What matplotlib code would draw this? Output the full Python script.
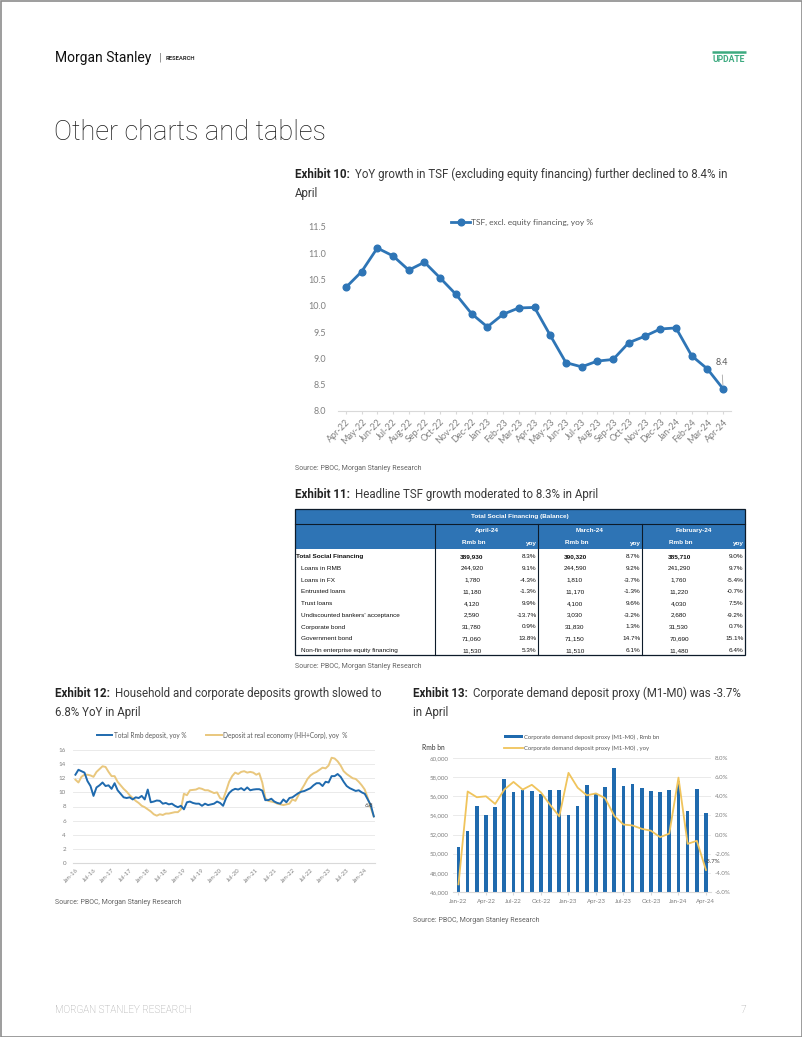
import matplotlib
matplotlib.use('Agg')
import matplotlib.pyplot as plt
from matplotlib.patches import Rectangle
from matplotlib.ticker import FuncFormatter
import numpy as np

# ---------------- data ----------------
tsf_months = ['Apr-22', 'May-22', 'Jun-22', 'Jul-22', 'Aug-22', 'Sep-22', 'Oct-22', 'Nov-22',
              'Dec-22', 'Jan-23', 'Feb-23', 'Mar-23', 'Apr-23', 'May-23', 'Jun-23', 'Jul-23',
              'Aug-23', 'Sep-23', 'Oct-23', 'Nov-23', 'Dec-23', 'Jan-24', 'Feb-24', 'Mar-24', 'Apr-24']
tsf_yoy = [10.35, 10.65, 11.1, 10.95, 10.68, 10.83, 10.53, 10.22, 9.85, 9.6, 9.84, 9.96, 9.97,
           9.44, 8.92, 8.84, 8.95, 8.98, 9.3, 9.42, 9.56, 9.58, 9.05, 8.8, 8.42]

table_rows = ['Total Social Financing', 'Loans in RMB', 'Loans in FX', 'Entrusted loans',
              'Trust loans', "Undiscounted bankers' acceptance", 'Corporate bond',
              'Government bond', 'Non-fin enterprise equity financing']
table_months = ['April-24', 'March-24', 'February-24']
apr_bal = [389930, 244920, 1780, 11180, 4120, 2590, 31780, 71060, 11530]
apr_yoy = [8.3, 9.1, -4.3, -1.3, 9.9, -13.7, 0.9, 13.8, 5.3]
mar_bal = [390320, 244590, 1810, 11170, 4100, 3030, 31830, 71150, 11510]
mar_yoy = [8.7, 9.2, -3.7, -1.3, 9.6, -3.2, 1.3, 14.7, 6.1]
feb_bal = [385710, 241290, 1760, 11220, 4030, 2680, 31530, 70690, 11480]
feb_yoy = [9.0, 9.7, -5.4, -0.7, 7.5, -9.2, 0.7, 15.1, 6.4]

# monthly, Jan-16 .. Apr-24
total_rmb_dep = [12.5, 13.2, 13.0, 12.8, 11.6, 10.9, 9.5, 10.7, 11.0, 11.4, 10.9, 11.0,
                 10.5, 11.3, 10.3, 9.8, 9.3, 9.2, 9.3, 9.0, 9.3, 9.2, 9.5, 9.0,
                 10.4, 8.6, 8.7, 8.85, 8.8, 8.4, 8.5, 8.3, 8.4, 8.1, 7.9, 8.1,
                 7.6, 8.6, 8.7, 8.5, 8.4, 8.4, 8.1, 8.4, 8.2, 8.3, 8.4, 8.7,
                 8.5, 8.1, 9.2, 9.9, 10.3, 10.5, 10.4, 10.6, 10.3, 10.7, 10.3, 10.4,
                 10.45, 10.45, 10.25, 8.9, 8.9, 9.1, 8.7, 8.5, 8.4, 9.0, 8.6, 9.2,
                 9.3, 9.6, 9.9, 10.1, 10.2, 10.4, 10.6, 11.0, 11.3, 11.3, 10.9, 11.5,
                 11.4, 12.3, 12.3, 12.6, 12.2, 11.5, 10.9, 10.6, 10.4, 10.2, 10.3, 10.0,
                 9.8, 9.0, 8.2, 6.6]
real_econ_dep = [11.8, 11.4, 12.2, 12.5, 12.5, 12.4, 12.2, 12.9, 13.3, 13.7, 13.6, 12.9,
                 12.3, 12.3, 11.5, 11.0, 10.5, 10.1, 9.6, 9.2, 8.8, 8.5, 8.1, 7.9,
                 7.6, 7.3, 6.9, 6.7, 6.9, 6.8, 7.0, 7.0, 7.1, 7.2, 7.2, 7.6,
                 9.8, 9.6, 10.3, 10.35, 10.4, 10.6, 10.5, 10.3, 10.3, 10.1, 9.9, 10.0,
                 9.2, 9.0, 10.2, 11.5, 12.3, 12.8, 12.6, 12.9, 13.0, 12.8, 12.9, 12.8,
                 12.5, 12.7, 11.4, 9.2, 8.8, 8.7, 8.6, 8.4, 8.3, 8.2, 8.3, 8.4,
                 9.0, 8.8, 9.6, 10.4, 11.1, 11.9, 12.4, 12.7, 12.9, 13.2, 13.5, 13.4,
                 13.8, 14.9, 14.8, 14.4, 13.8, 13.0, 12.6, 12.3, 12.0, 11.9, 11.5, 11.0,
                 10.4, 9.2, 7.8, 6.6]
dep_ticklabels = ['Jan-16', 'Jul-16', 'Jan-17', 'Jul-17', 'Jan-18', 'Jul-18', 'Jan-19', 'Jul-19',
                  'Jan-20', 'Jul-20', 'Jan-21', 'Jul-21', 'Jan-22', 'Jul-22', 'Jan-23', 'Jul-23', 'Jan-24']

m1m0_months = ['Jan-22', 'Feb-22', 'Mar-22', 'Apr-22', 'May-22', 'Jun-22', 'Jul-22', 'Aug-22',
               'Sep-22', 'Oct-22', 'Nov-22', 'Dec-22', 'Jan-23', 'Feb-23', 'Mar-23', 'Apr-23',
               'May-23', 'Jun-23', 'Jul-23', 'Aug-23', 'Sep-23', 'Oct-23', 'Nov-23', 'Dec-23',
               'Jan-24', 'Feb-24', 'Mar-24', 'Apr-24']
m1m0_bal = [50700, 52370, 54940, 54000, 54890, 57780, 56480, 56640, 56550, 56290, 56640, 56640,
            54000, 54970, 57170, 56190, 57000, 58940, 57070, 57280, 56830, 56550, 56480, 56650,
            57600, 54440, 56780, 54270]
m1m0_yoy = [-5.2, 4.5, 3.9, 4.0, 3.2, 4.7, 5.5, 4.7, 5.2, 4.4, 3.1, 1.9,
            6.45, 4.9, 4.1, 4.3, 3.8, 1.95, 1.05, 0.95, 0.6, 0.4, -0.27, 0.1,
            5.95, -0.97, -0.65, -3.7]

# ---------------- layout helpers ----------------
W, H = 802, 1037
fig = plt.figure(figsize=(W / 100, H / 100), dpi=100)
fig.patch.set_facecolor('white')


def add_axes_px(left, top, right, bottom):
    return fig.add_axes([left / W, 1 - bottom / H, (right - left) / W, (bottom - top) / H])


page = fig.add_axes([0, 0, 1, 1])
page.set_xlim(0, W)
page.set_ylim(H, 0)
page.axis('off')

TITLE_FONT = 'Roboto'
CHART_FONT = 'Lato'
TABLE_FONT = 'Liberation Sans'
SRC = '#666666'
BLUE = '#2E75B6'
DBLUE = '#1F6AAE'
GOLD = '#E9C77D'
GOLD2 = '#F0C45C'

# page border
page.add_patch(Rectangle((0.5, 0.5), W - 1, H - 1, fill=False, ec='#8c8c8c', lw=1.2))

# header
page.text(55, 58, 'Morgan Stanley', family=TITLE_FONT, fontsize=10, color='#111111', va='center')
page.text(159, 58, '|', family=TITLE_FONT, fontsize=8, color='#777777', va='center')
page.text(166, 58.5, 'RESEARCH', family=TITLE_FONT, fontsize=4.2, fontweight='bold',
          color='#333333', va='center')
page.plot([712, 746], [52, 52], color='#3DAA80', lw=1.8, solid_capstyle='butt')
page.text(729, 59.5, 'UPDATE', family=TITLE_FONT, fontsize=6.2, fontweight='bold',
          color='#3DAA80', va='center', ha='center')

page.text(54, 133, 'Other charts and tables', family=TITLE_FONT, fontweight='light',
          fontsize=19.5, color='#1a1a1a', va='center')


def exhibit(x, y, label, line1, line2=None, size=8.3):
    t = page.text(x, y, label, family=TITLE_FONT, fontweight='bold', fontsize=size,
                  color='#222222', va='baseline')
    page.annotate(line1, xy=(1, 0), xycoords=t, xytext=(3.5, 0), textcoords='offset points',
                  family=TITLE_FONT, fontsize=size, color='#3a3a3a',
                  va='bottom', ha='left')
    if line2:
        page.text(x, y + 19, line2, family=TITLE_FONT, fontsize=size,
                  color='#3a3a3a', va='baseline')


def source(x, y):
    page.text(x, y, 'Source: PBOC, Morgan Stanley Research', family=TITLE_FONT, fontsize=5,
              color=SRC, va='center')


exhibit(295, 178, 'Exhibit 10:',
        'YoY growth in TSF (excluding equity financing) further declined to 8.4% in', 'April')
source(295, 469)
exhibit(295, 498, 'Exhibit 11:', 'Headline TSF growth moderated to 8.3% in April')
source(295, 667)
exhibit(55, 697, 'Exhibit 12:', 'Household and corporate deposits growth slowed to', '6.8% YoY in April')
source(55, 902)
exhibit(413, 697, 'Exhibit 13:', 'Corporate demand deposit proxy (M1-M0) was -3.7%', 'in April')
source(413, 920)

# footer
page.text(55, 1010, 'MORGAN STANLEY RESEARCH', family=TITLE_FONT, fontweight='light',
          fontsize=7.1, color='#9a9a9a', va='center')
page.text(746, 1010, '7', family=TITLE_FONT, fontweight='light', fontsize=7.5, color='#9a9a9a',
          va='center', ha='right')

# ---------------- Exhibit 10 ----------------
ax1 = add_axes_px(338, 227, 731, 411)
x1 = np.arange(len(tsf_months))
ax1.plot(x1, tsf_yoy, color=BLUE, lw=2, marker='o', ms=4.8,
         label='TSF, excl. equity financing, yoy %')
ax1.set_xlim(-0.5, len(x1) - 0.5)
ax1.set_ylim(8, 11.5)
ax1.set_yticks(np.arange(8, 11.51, 0.5))
ax1.yaxis.set_major_formatter(FuncFormatter(lambda v, p: f'{v:.1f}'))
ax1.set_xticks(x1)
ax1.set_xticklabels(tsf_months, rotation=45, ha='right', rotation_mode='anchor')
for s in ['top', 'right', 'left']:
    ax1.spines[s].set_visible(False)
ax1.spines['bottom'].set_color('#D9D9D9')
ax1.tick_params(axis='y', length=0, labelsize=6.5, labelcolor='#808080', pad=8.5)
ax1.tick_params(axis='x', length=2.5, color='#D9D9D9', labelsize=6.5, labelcolor='#808080', pad=2)
for lab in ax1.get_xticklabels() + ax1.get_yticklabels():
    lab.set_family(CHART_FONT)
ax1.annotate(f'{tsf_yoy[-1]:.1f}', xy=(x1[-1], tsf_yoy[-1]), xytext=(x1[-1] - 0.1, 8.93),
             ha='center', va='center', fontsize=6.5, family=CHART_FONT, color='#595959',
             arrowprops=dict(arrowstyle='-', color='#a6a6a6', lw=0.6, shrinkA=4, shrinkB=3))
leg1 = ax1.legend(loc='center', bbox_to_anchor=(522 / W, 1 - 222 / H),
                  bbox_transform=fig.transFigure, frameon=False, handlelength=2.2,
                  handletextpad=0.1, prop={'family': CHART_FONT, 'size': 6})
for t in leg1.get_texts():
    t.set_color('#595959')

# ---------------- Exhibit 11 (table) ----------------
TL, TR, TT, TB = 295, 745, 509, 655
col_edges = [435, 538, 642, 745]
hdr_bottom = 549
page.add_patch(Rectangle((TL, TT), TR - TL, hdr_bottom - TT, fc='#2E74B5', ec='none'))
page.text((TL + TR) / 2, 516.5, 'Total Social Financing (Balance)', family=TABLE_FONT,
          fontweight='bold', fontsize=4.6, color='white', ha='center', va='center')
page.plot([TL, TR], [524, 524], color='#0d1b2a', lw=0.8)
for i, mname in enumerate(table_months):
    cl, cr = col_edges[i], col_edges[i + 1]
    page.text((cl + cr) / 2, 530.5, mname, family=TABLE_FONT, fontweight='bold', fontsize=4.6,
              color='white', ha='center', va='center')
    page.text(cl + 39, 543, 'Rmb bn', family=TABLE_FONT, fontweight='bold', fontsize=4.6,
              color='white', ha='center', va='center')
    page.text(cr - 1.5, 543, 'yoy', family=TABLE_FONT, fontweight='bold', fontsize=4.6,
              color='white', ha='right', va='center')
for cx in col_edges[:-1]:
    page.plot([cx, cx], [524, TB], color='#0d1b2a', lw=0.8)
page.add_patch(Rectangle((TL, TT), TR - TL, TB - TT, fill=False, ec='#0d1b2a', lw=0.9))

bals = [apr_bal, mar_bal, feb_bal]
yoys = [apr_yoy, mar_yoy, feb_yoy]
row_h = 11.75
for r, name in enumerate(table_rows):
    yy = 556.5 + r * row_h
    bold = 'bold' if r == 0 else 'normal'
    page.text(TL + 1.5 if r == 0 else TL + 6, yy, name, family=TABLE_FONT, fontweight=bold,
              fontsize=4.6, color='#111111', va='center', ha='left')
    for i in range(3):
        cl, cr = col_edges[i], col_edges[i + 1]
        page.text(cl + 37, yy, f'{bals[i][r]:,}', family=TABLE_FONT, fontweight=bold,
                  fontsize=4.6, color='#111111', va='center', ha='center')
        page.text(cr - 1.5, yy, f'{yoys[i][r]:.1f}%', family=TABLE_FONT, fontsize=4.6,
                  color='#111111', va='center', ha='right')

# ---------------- Exhibit 12 ----------------
ax2 = add_axes_px(73, 750, 375, 863)
m = np.arange(len(total_rmb_dep))
ax2.plot(m, total_rmb_dep, color=DBLUE, lw=1.4, label='Total Rmb deposit, yoy %', zorder=3)
ax2.plot(m, real_econ_dep, color=GOLD, lw=1.4,
         label='Deposit at real economy (HH+Corp), yoy  %', zorder=2)
ax2.set_xlim(-0.8, len(m) - 0.6)
ax2.set_ylim(0, 16)
ax2.set_yticks(np.arange(0, 16.1, 2))
ax2.set_xticks(np.arange(0, len(m), 6))
ax2.set_xticklabels(dep_ticklabels, rotation=45, ha='right', rotation_mode='anchor')
ax2.grid(axis='y', color='#E6E6E6', lw=0.6)
ax2.set_axisbelow(True)
for s in ['top', 'right', 'left']:
    ax2.spines[s].set_visible(False)
ax2.spines['bottom'].set_color('#D9D9D9')
ax2.tick_params(axis='y', length=0, labelsize=4.5, labelcolor='#808080', pad=5)
ax2.tick_params(axis='x', length=0, labelsize=4.3, labelcolor='#808080', pad=3)
for lab in ax2.get_xticklabels() + ax2.get_yticklabels():
    lab.set_family(CHART_FONT)
ax2.text(97.3, 8.1, '6.8', fontsize=4.5, family=CHART_FONT, color='#404040', ha='center', va='center')
leg2 = ax2.legend(loc='center', bbox_to_anchor=(222 / W, 1 - 735 / H), ncol=2,
                  bbox_transform=fig.transFigure, frameon=False, handlelength=2.4,
                  handletextpad=0.2, columnspacing=3.0, prop={'family': CHART_FONT, 'size': 4.7})
for t in leg2.get_texts():
    t.set_color('#595959')

# ---------------- Exhibit 13 ----------------
ax3 = add_axes_px(453, 758, 711, 892)
k = np.arange(len(m1m0_months))
ax3.bar(k, m1m0_bal, width=0.4, color=DBLUE, bottom=0,
        label='Corporate demand deposit proxy (M1-M0) , Rmb bn', zorder=2)
ax3.set_xlim(-0.6, len(k) - 0.45)
ax3.set_ylim(46000, 60000)
ax3.set_yticks(np.arange(46000, 60001, 2000))
ax3.yaxis.set_major_formatter(FuncFormatter(lambda v, p: f'{v:,.0f}'))
ax3.set_xticks(k[::3])
ax3.set_xticklabels(m1m0_months[::3])
ax3.grid(axis='y', color='#E6E6E6', lw=0.6)
ax3.set_axisbelow(True)
for s in ['top', 'right', 'left']:
    ax3.spines[s].set_visible(False)
ax3.spines['bottom'].set_color('#D9D9D9')
ax3.tick_params(axis='y', length=0, labelsize=4.4, labelcolor='#808080', pad=3)
ax3.tick_params(axis='x', length=2, color='#D9D9D9', labelsize=4.4, labelcolor='#808080', pad=3)

ax3b = ax3.twinx()
ax3b.plot(k, m1m0_yoy, color=GOLD2, lw=1.3,
          label='Corporate demand deposit proxy (M1-M0) , yoy', zorder=3)
ax3b.set_ylim(-6, 8)
ax3b.set_yticks(np.arange(-6, 8.1, 2))
ax3b.yaxis.set_major_formatter(FuncFormatter(lambda v, p: f'{v:.1f}%'))
for s in ['top', 'left', 'bottom', 'right']:
    ax3b.spines[s].set_visible(False)
ax3b.tick_params(axis='y', length=0, labelsize=4.4, labelcolor='#808080', pad=2.5)
for lab in (ax3.get_xticklabels() + ax3.get_yticklabels() + ax3b.get_yticklabels()):
    lab.set_family(CHART_FONT)
ax3b.text(k[-1] - 0.1, m1m0_yoy[-1] + 0.85, f'{m1m0_yoy[-1]:.1f}%', fontsize=4.4,
          family=CHART_FONT, color='#404040', ha='left', va='center')
page.text(433, 748, 'Rmb bn', family=CHART_FONT, fontsize=4.8, color='#333333', va='center',
          ha='center')
h1, l1 = ax3.get_legend_handles_labels()
h2, l2 = ax3b.get_legend_handles_labels()
leg3 = ax3b.legend(h1 + h2, l1 + l2, loc='center', bbox_to_anchor=(582 / W, 1 - 742.5 / H),
                   bbox_transform=fig.transFigure, frameon=False, handlelength=3.2,
                   handleheight=0.5, handletextpad=0.2, labelspacing=1.0,
                   prop={'family': CHART_FONT, 'size': 4.3})
for t in leg3.get_texts():
    t.set_color('#595959')

fig.savefig('out.png', dpi=100, facecolor='white')
